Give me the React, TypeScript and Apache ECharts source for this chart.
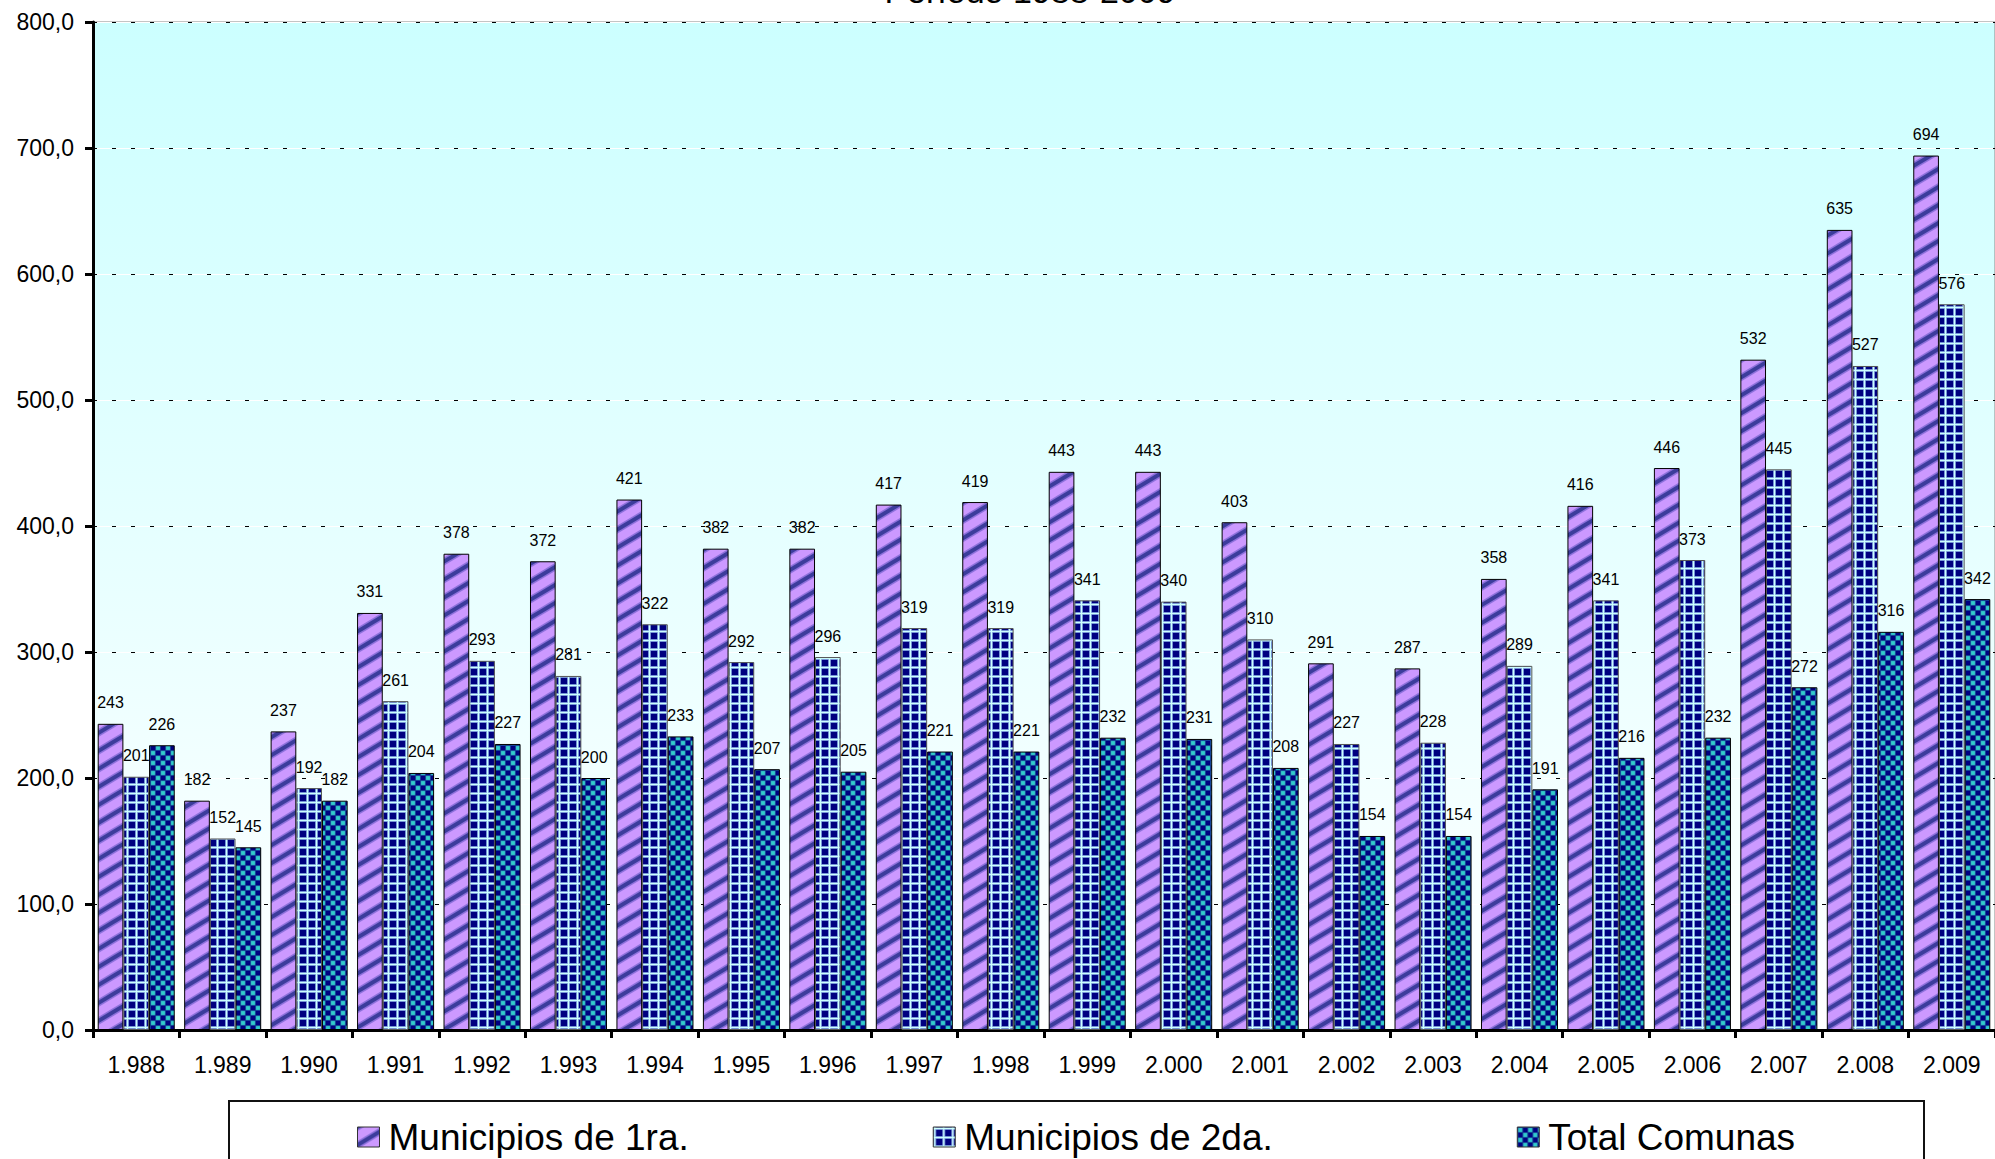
import React, { useEffect, useRef } from "react";
import * as echarts from "echarts";

const categories = [
  "1.988", "1.989", "1.990", "1.991", "1.992", "1.993", "1.994", "1.995", "1.996", "1.997", "1.998",
  "1.999", "2.000", "2.001", "2.002", "2.003", "2.004", "2.005", "2.006", "2.007", "2.008", "2.009",
];
const municipios1ra = [243, 182, 237, 331, 378, 372, 421, 382, 382, 417, 419, 443, 443, 403, 291, 287, 358, 416, 446, 532, 635, 694];
const municipios2da = [201, 152, 192, 261, 293, 281, 322, 292, 296, 319, 319, 341, 340, 310, 227, 228, 289, 341, 373, 445, 527, 576];
const totalComunas = [226, 145, 182, 204, 227, 200, 233, 207, 205, 221, 221, 232, 231, 208, 154, 154, 191, 216, 232, 272, 316, 342];
const seriesNames = ["Municipios de 1ra.", "Municipios de 2da.", "Total Comunas"];
const titleText = "Período 1988-2009";

const FONT = "'Liberation Sans', Arial, sans-serif";

function makeStripes() {
  const W = 30, H = 18;
  const c = document.createElement("canvas");
  c.width = W; c.height = H;
  const ctx = c.getContext("2d")!;
  ctx.fillStyle = "#CC99FF";
  ctx.fillRect(0, 0, W, H);
  const draw = (lw: number, col: string) => {
    ctx.strokeStyle = col;
    ctx.lineWidth = lw;
    for (let k = -2; k <= 2; k++) {
      ctx.beginPath();
      ctx.moveTo(-W, 2 * H + k * H);
      ctx.lineTo(2 * W, -H + k * H);
      ctx.stroke();
    }
  };
  draw(7, "rgba(90,80,190,0.55)");
  draw(4, "#3C3C9C");
  return { image: c, repeat: "repeat", imageWidth: W, imageHeight: H };
}

function makeGrid() {
  const S = 9;
  const c = document.createElement("canvas");
  c.width = S; c.height = S;
  const ctx = c.getContext("2d")!;
  ctx.fillStyle = "#000080";
  ctx.fillRect(0, 0, S, S);
  ctx.fillStyle = "#5A70C8";
  ctx.fillRect(0, 0, S, 3);
  ctx.fillRect(0, 0, 3, S);
  ctx.fillStyle = "#CCFFFF";
  ctx.fillRect(0, 0.75, S, 1.5);
  ctx.fillRect(0.75, 0, 1.5, S);
  return { image: c, repeat: "repeat", imageWidth: S, imageHeight: S };
}

function makeDots() {
  const S = 10;
  const c = document.createElement("canvas");
  c.width = S; c.height = S;
  const ctx = c.getContext("2d")!;
  ctx.fillStyle = "#000080";
  ctx.fillRect(0, 0, S, S);
  const sq = (x: number, y: number, s: number) => {
    ctx.fillRect(x, y, s, s);
    ctx.fillRect(x - S, y, s, s);
    ctx.fillRect(x, y - S, s, s);
    ctx.fillRect(x - S, y - S, s, s);
  };
  ctx.fillStyle = "#2A8AB0";
  sq(0.5, 0.5, 5);
  sq(5.5, 5.5, 5);
  ctx.fillStyle = "#33CCCC";
  sq(1.2, 1.2, 3.6);
  sq(6.2, 6.2, 3.6);
  return { image: c, repeat: "repeat", imageWidth: S, imageHeight: S };
}

export default function App() {
  const ref = useRef<HTMLDivElement>(null);

  useEffect(() => {
    if (!ref.current) return;
    const chart = echarts.init(ref.current, undefined, { renderer: "svg" });
    const fills = [makeStripes(), makeGrid(), makeDots()];
    const datas = [municipios1ra, municipios2da, totalComunas];
    const borders = ["#000000", "#555555", "#000000"];

    const option: any = {
      animation: false,
      textStyle: { fontFamily: FONT },
      grid: {
        left: 93,
        top: 22,
        width: 1903,
        height: 1008,
        show: true,
        borderColor: "#888888",
        borderWidth: 1,
        backgroundColor: {
          type: "linear",
          x: 0, y: 0, x2: 0, y2: 1,
          colorStops: [
            { offset: 0, color: "#CCFFFF" },
            { offset: 1, color: "#FFFFFF" },
          ],
        },
      },
      legend: {
        data: seriesNames,
        icon: "rect",
        left: 352,
        top: 1111,
        itemWidth: 22,
        itemHeight: 20,
        itemGap: 244,
        z: 10,
        textStyle: { fontFamily: FONT, fontSize: 37, color: "#000", lineHeight: 42, padding: [0, 0, 0, 4] },
        itemStyle: { borderColor: "#333", borderWidth: 1 },
      },
      xAxis: {
        type: "category",
        data: categories,
        axisLine: { show: true, lineStyle: { color: "#000", width: 3 } },
        axisTick: { show: true, length: 8, lineStyle: { color: "#000", width: 3 } },
        axisLabel: { fontFamily: FONT, fontSize: 23, color: "#000", margin: 23 },
      },
      yAxis: [
        {
          type: "value",
          min: 0,
          max: 800,
          interval: 100,
          axisLine: { show: true, lineStyle: { color: "#000", width: 3 } },
          axisTick: { show: true, length: 8, lineStyle: { color: "#000", width: 3 } },
          axisLabel: {
            fontFamily: FONT,
            fontSize: 23,
            color: "#000",
            margin: 19,
            formatter: (v: number) => v.toFixed(1).replace(".", ","),
          },
          splitLine: { show: true, lineStyle: { color: "#FFFFFF", width: 1 } },
        },
        {
          type: "value",
          min: 0,
          max: 800,
          interval: 100,
          position: "left",
          axisLine: { show: false },
          axisTick: { show: false },
          axisLabel: { show: false },
          splitLine: { show: true, lineStyle: { color: "#000", width: 1, type: [4, 15] } },
        },
      ],
      series: seriesNames.map((name, i) => ({
        name,
        type: "bar",
        yAxisIndex: 0,
        data: datas[i],
        barGap: "0%",
        barCategoryGap: "10.9%",
        itemStyle: { color: fills[i], borderColor: borders[i], borderWidth: 1 },
        label: {
          show: true,
          position: "top",
          distance: 13,
          fontFamily: FONT,
          fontSize: 16,
          color: "#000",
        },
      })),
      graphic: [
        {
          type: "rect",
          z: 0,
          shape: { x: 229, y: 1101, width: 1695, height: 80 },
          style: { fill: "#FFFFFF", stroke: "#111111", lineWidth: 2 },
        },
        {
          type: "text",
          x: 1030,
          y: -9,
          style: {
            text: titleText,
            fontFamily: FONT,
            fontSize: 34,
            fill: "#000",
            align: "center",
            verticalAlign: "middle",
          },
        },
      ],
    };
    chart.setOption(option);
    return () => chart.dispose();
  }, []);

  return (
    <div
      ref={ref}
      style={{ position: "absolute", left: 0, top: 0, width: 1995, height: 1159, background: "#FFFFFF" }}
    />
  );
}
